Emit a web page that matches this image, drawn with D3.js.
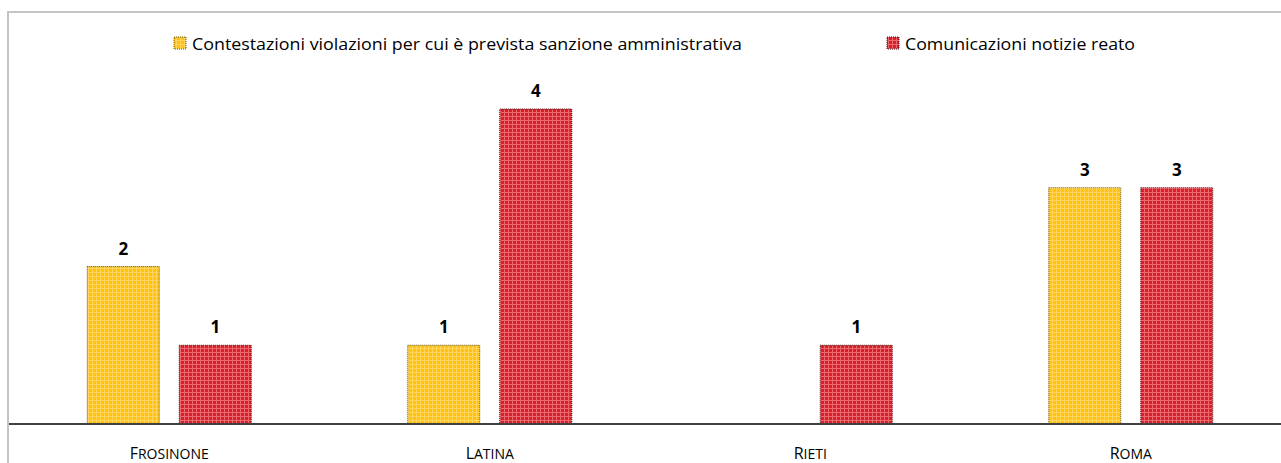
<!DOCTYPE html>
<html><head><meta charset="utf-8">
<script src="https://cdn.jsdelivr.net/npm/d3@7/dist/d3.min.js"></script>
<style>body{margin:0;background:#fff}svg{display:block}</style>
</head><body>
<script>
const categories = ["Frosinone", "Latina", "Rieti", "Roma"];
const seriesNames = ["Contestazioni violazioni per cui è prevista sanzione amministrativa", "Comunicazioni notizie reato"];
const contestazioni = [2, 1, 0, 3];
const comunicazioni = [1, 4, 1, 3];

const W = 1281, H = 463;
const FONT = "'Open Sans', Lato, sans-serif";
const svg = d3.select("body").append("svg").attr("width", W).attr("height", H);
const defs = svg.append("defs");
function pat(id, base, line) {
  const p = defs.append("pattern").attr("id", id).attr("patternUnits", "userSpaceOnUse").attr("width", 4).attr("height", 4);
  p.append("rect").attr("width", 4).attr("height", 4).attr("fill", base);
  p.append("rect").attr("x", 0).attr("y", 0).attr("width", 4).attr("height", 1).attr("fill", line);
  p.append("rect").attr("x", 0).attr("y", 0).attr("width", 1).attr("height", 4).attr("fill", line);
}
pat("py", "#FFC20E", "#FFD560");
pat("pr", "#D9202A", "#E86A70");
const fills = ["url(#py)", "url(#pr)"];
const strokes = ["#6b5500", "#5a0a0a"];

// frame
svg.append("rect").attr("x", 8).attr("y", 12).attr("width", W + 10).attr("height", H + 10)
  .attr("fill", "none").attr("stroke", "#c4c4c4").attr("stroke-width", 2);

const baseY = 424;
const y = d3.scaleLinear().domain([0, 4]).range([baseY, 109]);
const x0 = d3.scaleBand().domain(categories).range([9, 1291]);
const half = 82;
const x1 = d3.scaleBand().domain([0, 1]).range([x0.bandwidth() / 2 - half, x0.bandwidth() / 2 + half]).paddingInner(0.2174);

const data = [contestazioni, comunicazioni];
const g = svg.append("g");
categories.forEach((c, i) => {
  [0, 1].forEach(s => {
    const v = data[s][i];
    if (!v) return;
    const bx = x0(c) + x1(s);
    g.append("rect").attr("x", bx).attr("y", y(v)).attr("width", x1.bandwidth()).attr("height", baseY - y(v))
      .attr("fill", fills[s]).attr("stroke", strokes[s]).attr("stroke-width", 1).attr("stroke-dasharray", "1,1");
    g.append("text").attr("x", bx + x1.bandwidth() / 2).attr("y", y(v) - 12).attr("text-anchor", "middle")
      .attr("font-family", FONT).attr("font-weight", "bold").attr("font-size", 17)
      .attr("fill", "#000").text(v);
  });
});

// axis
const axis = d3.axisBottom(x0).tickSize(0).tickPadding(0).tickFormat(() => "");
const ax = svg.append("g").attr("transform", `translate(0,${baseY})`).call(axis);
ax.select(".domain").remove();
ax.selectAll(".tick text").each(function(d) {
  const t = d3.select(this).attr("y", 35).attr("dy", 0).attr("font-family", FONT).attr("fill", "#000");
  t.append("tspan").attr("font-size", 16).text(d.charAt(0).toUpperCase());
  t.append("tspan").attr("font-size", 14).text(d.slice(1).toUpperCase());
});
svg.append("line").attr("x1", 9).attr("x2", W).attr("y1", baseY).attr("y2", baseY)
  .attr("stroke", "#404040").attr("stroke-width", 2);

// legend
const legX = [174, 887];
const legLen = [550, 230];
seriesNames.forEach((n, s) => {
  svg.append("rect").attr("x", legX[s]).attr("y", 37).attr("width", 12).attr("height", 12)
    .attr("fill", fills[s]).attr("stroke", strokes[s]).attr("stroke-width", 1).attr("stroke-dasharray", "1,1");
  svg.append("text").attr("x", legX[s] + 18).attr("y", 50)
    .attr("font-family", FONT).attr("font-size", 16).attr("fill", "#000")
    .attr("textLength", legLen[s]).attr("lengthAdjust", "spacingAndGlyphs").text(n);
});
</script>
</body></html>
